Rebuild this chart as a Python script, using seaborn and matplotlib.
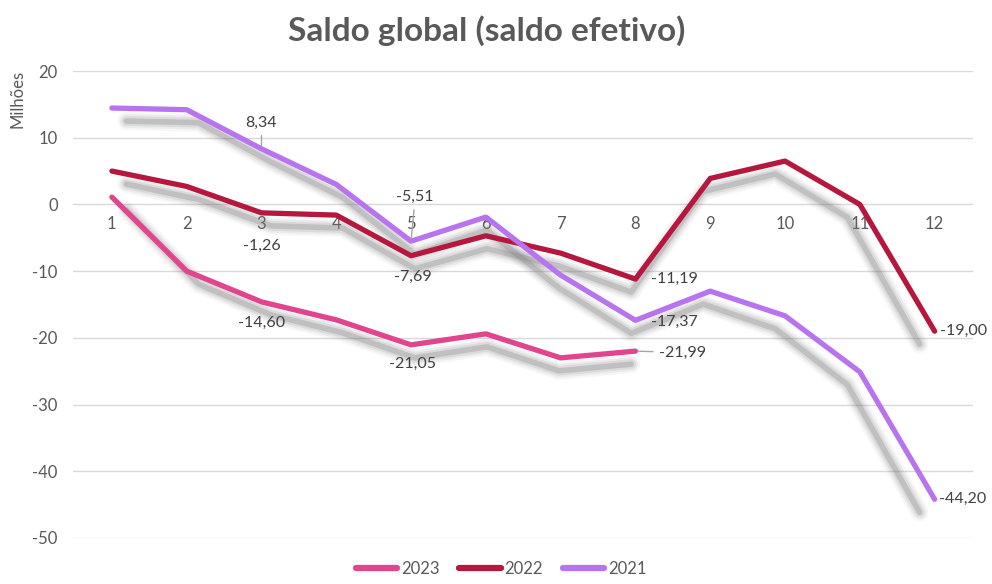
import numpy as np
import pandas as pd
import seaborn as sns
import matplotlib
matplotlib.use("Agg")
from matplotlib import pyplot as plt
from matplotlib import transforms
from matplotlib.lines import Line2D

# data (milhões)
months = list(range(1, 13))
saldo_2021 = [14.45, 14.2, 8.34, 3.0, -5.51, -1.9, -10.6, -17.37, -13.0, -16.7, -25.1, -44.20]
saldo_2022 = [5.0, 2.7, -1.26, -1.6, -7.69, -4.7, -7.3, -11.19, 3.9, 6.5, 0.0, -19.00]
saldo_2023 = [1.1, -10.0, -14.60, -17.3, -21.05, -19.4, -23.0, -21.99]
years = ["2023", "2022", "2021"]
series = {"2023": saldo_2023, "2022": saldo_2022, "2021": saldo_2021}
colors = {"2023": "#e0458e", "2022": "#b5173f", "2021": "#b873ef"}
# months that carry a data label
labelled = {"2021": [3, 5, 8, 12], "2022": [3, 5, 8, 12], "2023": [3, 5, 8]}

rows = []
for y in years:
    for m, v in zip(months, series[y]):
        rows.append({"Mês": m, "Saldo": v, "Ano": y})
df = pd.DataFrame(rows)

sns.set_theme(style="white")
plt.rcParams['font.family'] = ['Lato', 'DejaVu Sans']
plt.rcParams['axes.unicode_minus'] = False
text_col = "#595959"

fig = plt.figure(figsize=(9.92, 5.84), dpi=100)
ax = fig.add_axes([0.0736, 0.0788, 0.907, 0.7996])
ax.set_xlim(0.48, 12.51)
ax.set_ylim(-50, 20)

# blurred, slightly squeezed shadow under each line
cx = ax.transData.transform((6.4, 0))[0]
shadow_tr = ax.transData + transforms.Affine2D().translate(-cx, 0).scale(0.964, 1).translate(cx, -13)
for y in years:
    xs = months[:len(series[y])]
    for lw, a in [(13, 0.06), (10, 0.09), (7, 0.14), (4, 0.28)]:
        ax.plot(xs, series[y], color="#7a7a7a", lw=lw, alpha=a, transform=shadow_tr,
                solid_capstyle="round", solid_joinstyle="round", zorder=1)

sns.lineplot(data=df, x="Mês", y="Saldo", hue="Ano", hue_order=years, palette=colors,
             lw=3.8, ax=ax, legend=False, zorder=3,
             solid_capstyle="round", solid_joinstyle="round")

# data labels: (dx, dy) in points, alignment, leader line
offsets = {
    ("2021", 3): (0, 19, "center", True),
    ("2021", 5): (3, 32, "center", True),
    ("2021", 8): (11, -1, "left", False),
    ("2021", 12): (3, 0, "left", False),
    ("2022", 3): (0, -24, "center", False),
    ("2022", 5): (1, -15, "center", False),
    ("2022", 8): (11, 0, "left", False),
    ("2022", 12): (4, 0, "left", False),
    ("2023", 3): (0, -15, "center", False),
    ("2023", 5): (1, -14, "center", False),
    ("2023", 8): (17, -1, "left", True),
}
for y in years:
    for m in labelled[y]:
        v = series[y][m - 1]
        dx, dy, ha, lead = offsets[(y, m)]
        ax.annotate(f"{v:.2f}".replace(".", ","), xy=(m, v), xytext=(dx, dy),
                    textcoords="offset points", ha=ha, va="center",
                    fontsize=11.5, color="#404040", zorder=5,
                    arrowprops=dict(arrowstyle="-", color="#a6a6a6", lw=1,
                                    shrinkA=2, shrinkB=2) if lead else None)

ax.set_yticks(range(-50, 21, 10))
ax.set_xticks(months)
ax.yaxis.grid(True, color="#d9d9d9", lw=1)
ax.xaxis.grid(False)
for s in ["top", "right", "left"]:
    ax.spines[s].set_visible(False)
ax.spines["bottom"].set_position(("data", 0))
ax.spines["bottom"].set_visible(False)
ax.tick_params(axis="y", length=0, pad=11, labelsize=12, labelcolor=text_col)
ax.tick_params(axis="x", length=0, pad=8, labelsize=12, labelcolor=text_col)
ax.set_xlabel("")
ax.set_ylabel("")

fig.text(0.018, 0.83, "Milhões", rotation=90, ha="center", va="center",
         fontsize=12, color=text_col)
fig.text(0.491, 0.948, "Saldo global (saldo efetivo)", ha="center", va="center",
         fontsize=24, fontweight="bold", color=text_col)

handles = [Line2D([0], [0], color=colors[y], lw=4.5, solid_capstyle="round") for y in years]
fig.legend(handles, years, loc="lower center", bbox_to_anchor=(0.505, -0.014), ncol=3,
           frameon=False, fontsize=12, handlelength=2.5, handletextpad=0.2,
           columnspacing=1.2, labelcolor=text_col)

fig.savefig("out.png", dpi=100)
